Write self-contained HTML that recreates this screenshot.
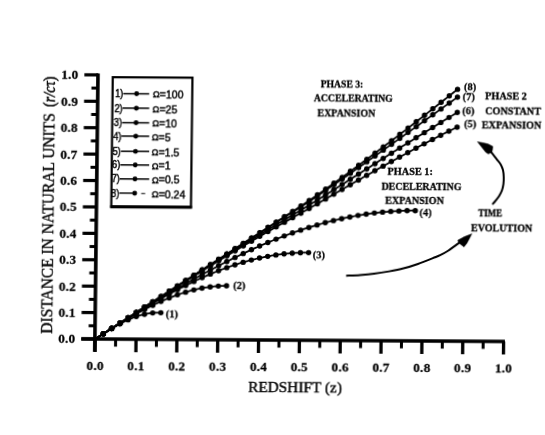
<!DOCTYPE html>
<html><head><meta charset="utf-8"><title>Distance vs Redshift</title>
<style>
html,body{margin:0;padding:0;background:#fff;}
body{width:545px;height:435px;overflow:hidden;position:relative;font-family:"Liberation Serif",serif;}
</style></head><body>
<svg width="545" height="435" viewBox="0 0 545 435" style="position:absolute;left:0;top:0;display:block">
<defs><filter id="soft" x="0" y="0" width="545" height="435" filterUnits="userSpaceOnUse"><feGaussianBlur stdDeviation="0.38"/></filter></defs>
<rect width="545" height="435" fill="#fff"/>
<g transform="matrix(1 0.0061 -0.0117 1 3.9663 -0.5807)" filter="url(#soft)">
<g stroke="#000" stroke-linecap="butt" fill="none">
<line x1="94.9" y1="73.40" x2="94.9" y2="351.8" stroke-width="3.6"/>
<line x1="81.3" y1="339.0" x2="504.90" y2="339.0" stroke-width="3.3"/>
<line x1="81.3" y1="339.00" x2="95.2" y2="339.00" stroke-width="3.2"/>
<line x1="88.5" y1="325.80" x2="95.2" y2="325.80" stroke-width="3.0"/>
<line x1="81.3" y1="312.59" x2="95.2" y2="312.59" stroke-width="3.2"/>
<line x1="88.5" y1="299.38" x2="95.2" y2="299.38" stroke-width="3.0"/>
<line x1="81.3" y1="286.18" x2="95.2" y2="286.18" stroke-width="3.2"/>
<line x1="88.5" y1="272.98" x2="95.2" y2="272.98" stroke-width="3.0"/>
<line x1="81.3" y1="259.77" x2="95.2" y2="259.77" stroke-width="3.2"/>
<line x1="88.5" y1="246.56" x2="95.2" y2="246.56" stroke-width="3.0"/>
<line x1="81.3" y1="233.36" x2="95.2" y2="233.36" stroke-width="3.2"/>
<line x1="88.5" y1="220.15" x2="95.2" y2="220.15" stroke-width="3.0"/>
<line x1="81.3" y1="206.95" x2="95.2" y2="206.95" stroke-width="3.2"/>
<line x1="88.5" y1="193.74" x2="95.2" y2="193.74" stroke-width="3.0"/>
<line x1="81.3" y1="180.54" x2="95.2" y2="180.54" stroke-width="3.2"/>
<line x1="88.5" y1="167.33" x2="95.2" y2="167.33" stroke-width="3.0"/>
<line x1="81.3" y1="154.13" x2="95.2" y2="154.13" stroke-width="3.2"/>
<line x1="88.5" y1="140.92" x2="95.2" y2="140.92" stroke-width="3.0"/>
<line x1="81.3" y1="127.72" x2="95.2" y2="127.72" stroke-width="3.2"/>
<line x1="88.5" y1="114.51" x2="95.2" y2="114.51" stroke-width="3.0"/>
<line x1="81.3" y1="101.31" x2="95.2" y2="101.31" stroke-width="3.2"/>
<line x1="88.5" y1="88.10" x2="95.2" y2="88.10" stroke-width="3.0"/>
<line x1="81.3" y1="74.90" x2="95.2" y2="74.90" stroke-width="3.2"/>
<line x1="95.20" y1="339.0" x2="95.20" y2="352" stroke-width="3.3"/>
<line x1="115.62" y1="339.0" x2="115.62" y2="346.5" stroke-width="3.0"/>
<line x1="136.04" y1="339.0" x2="136.04" y2="352" stroke-width="3.3"/>
<line x1="156.46" y1="339.0" x2="156.46" y2="346.5" stroke-width="3.0"/>
<line x1="176.88" y1="339.0" x2="176.88" y2="352" stroke-width="3.3"/>
<line x1="197.30" y1="339.0" x2="197.30" y2="346.5" stroke-width="3.0"/>
<line x1="217.72" y1="339.0" x2="217.72" y2="352" stroke-width="3.3"/>
<line x1="238.14" y1="339.0" x2="238.14" y2="346.5" stroke-width="3.0"/>
<line x1="258.56" y1="339.0" x2="258.56" y2="352" stroke-width="3.3"/>
<line x1="278.98" y1="339.0" x2="278.98" y2="346.5" stroke-width="3.0"/>
<line x1="299.40" y1="339.0" x2="299.40" y2="352" stroke-width="3.3"/>
<line x1="319.82" y1="339.0" x2="319.82" y2="346.5" stroke-width="3.0"/>
<line x1="340.24" y1="339.0" x2="340.24" y2="352" stroke-width="3.3"/>
<line x1="360.66" y1="339.0" x2="360.66" y2="346.5" stroke-width="3.0"/>
<line x1="381.08" y1="339.0" x2="381.08" y2="352" stroke-width="3.3"/>
<line x1="401.50" y1="339.0" x2="401.50" y2="346.5" stroke-width="3.0"/>
<line x1="421.92" y1="339.0" x2="421.92" y2="352" stroke-width="3.3"/>
<line x1="442.34" y1="339.0" x2="442.34" y2="346.5" stroke-width="3.0"/>
<line x1="462.76" y1="339.0" x2="462.76" y2="352" stroke-width="3.3"/>
<line x1="483.18" y1="339.0" x2="483.18" y2="346.5" stroke-width="3.0"/>
<line x1="503.60" y1="339.0" x2="503.60" y2="352" stroke-width="3.3"/>
</g>
<g style="font-family:'Liberation Serif',serif;font-weight:bold;font-size:13.3px;letter-spacing:0.2px" fill="#000" stroke="#000" stroke-width="0.25">
<text x="95.40" y="370.0" text-anchor="middle">0.0</text>
<text x="136.24" y="370.0" text-anchor="middle">0.1</text>
<text x="177.08" y="370.0" text-anchor="middle">0.2</text>
<text x="217.92" y="370.0" text-anchor="middle">0.3</text>
<text x="258.76" y="370.0" text-anchor="middle">0.4</text>
<text x="299.60" y="370.0" text-anchor="middle">0.5</text>
<text x="340.44" y="370.0" text-anchor="middle">0.6</text>
<text x="381.28" y="370.0" text-anchor="middle">0.7</text>
<text x="422.12" y="370.0" text-anchor="middle">0.8</text>
<text x="462.96" y="370.0" text-anchor="middle">0.9</text>
<text x="503.80" y="370.0" text-anchor="middle">1.0</text>
<text x="75.4" y="343.40" text-anchor="end">0.0</text>
<text x="75.4" y="316.99" text-anchor="end">0.1</text>
<text x="75.4" y="290.58" text-anchor="end">0.2</text>
<text x="75.4" y="264.17" text-anchor="end">0.3</text>
<text x="75.4" y="237.76" text-anchor="end">0.4</text>
<text x="75.4" y="211.35" text-anchor="end">0.5</text>
<text x="75.4" y="184.94" text-anchor="end">0.6</text>
<text x="75.4" y="158.53" text-anchor="end">0.7</text>
<text x="75.4" y="132.12" text-anchor="end">0.8</text>
<text x="75.4" y="105.71" text-anchor="end">0.9</text>
<text x="75.4" y="79.30" text-anchor="end">1.0</text>
</g>
<text x="295.6" y="391.0" text-anchor="middle" textLength="93.8" lengthAdjust="spacingAndGlyphs" style="font-family:'Liberation Serif',serif;font-size:14.5px" stroke="#000" stroke-width="0.4">REDSHIFT (z)</text>
<text transform="translate(51.8,333.9) rotate(-90)" textLength="220.4" lengthAdjust="spacingAndGlyphs" style="font-family:'Liberation Serif',serif;font-size:17.5px" stroke="#000" stroke-width="0.4">DISTANCE IN NATURAL UNITS</text>
<text transform="translate(51.6,107.2) rotate(-90)" textLength="30.5" lengthAdjust="spacingAndGlyphs" style="font-family:'Liberation Serif',serif;font-size:16px" stroke="#000" stroke-width="0.5">(<tspan style="font-style:italic">r/cτ</tspan>)</text>
<rect x="109.7" y="77.2" width="79.7" height="129.2" fill="none" stroke="#000" stroke-width="2.2"/>
<line x1="108.60000000000001" y1="206.70000000000002" x2="190.5" y2="206.70000000000002" stroke="#000" stroke-width="3"/>
<line x1="120.34" y1="93.55" x2="146.33" y2="93.55" stroke="#000" stroke-width="1.5"/>
<circle cx="133.73" cy="93.55" r="2.45" fill="#000"/>
<text x="112.14" y="97.15" style="font-family:'Liberation Sans',sans-serif;font-size:10.5px" textLength="8.2" lengthAdjust="spacingAndGlyphs" stroke="#000" stroke-width="0.45">1)</text>
<text x="0" y="98.15" style="font-family:'Liberation Sans',sans-serif;font-size:11px" transform="translate(150.03,0) scale(0.96,1)" stroke="#000" stroke-width="0.45"><tspan style="font-size:9.5px" dy="-0.8">Ω</tspan><tspan dy="0.8">=100</tspan></text>
<line x1="119.93" y1="107.95" x2="146.50" y2="107.95" stroke="#000" stroke-width="1.5"/>
<circle cx="133.63" cy="107.95" r="2.45" fill="#000"/>
<text x="111.73" y="111.55" style="font-family:'Liberation Sans',sans-serif;font-size:10.5px" textLength="8.2" lengthAdjust="spacingAndGlyphs" stroke="#000" stroke-width="0.45">2)</text>
<text x="0" y="112.55" style="font-family:'Liberation Sans',sans-serif;font-size:11px" transform="translate(149.85,0) scale(0.96,1)" stroke="#000" stroke-width="0.45"><tspan style="font-size:9.5px" dy="-0.8">Ω</tspan><tspan dy="0.8">=25</tspan></text>
<line x1="119.51" y1="122.55" x2="146.67" y2="122.55" stroke="#000" stroke-width="1.5"/>
<circle cx="133.52" cy="122.55" r="2.45" fill="#000"/>
<text x="111.31" y="126.15" style="font-family:'Liberation Sans',sans-serif;font-size:10.5px" textLength="8.2" lengthAdjust="spacingAndGlyphs" stroke="#000" stroke-width="0.45">3)</text>
<text x="0" y="127.15" style="font-family:'Liberation Sans',sans-serif;font-size:11px" transform="translate(149.67,0) scale(0.96,1)" stroke="#000" stroke-width="0.45"><tspan style="font-size:9.5px" dy="-0.8">Ω</tspan><tspan dy="0.8">=10</tspan></text>
<line x1="119.12" y1="135.95" x2="146.83" y2="135.95" stroke="#000" stroke-width="1.5"/>
<circle cx="133.42" cy="135.95" r="2.45" fill="#000"/>
<text x="110.92" y="139.55" style="font-family:'Liberation Sans',sans-serif;font-size:10.5px" textLength="8.2" lengthAdjust="spacingAndGlyphs" stroke="#000" stroke-width="0.45">4)</text>
<text x="0" y="140.55" style="font-family:'Liberation Sans',sans-serif;font-size:11px" transform="translate(149.48,0) scale(0.96,1)" stroke="#000" stroke-width="0.45"><tspan style="font-size:9.5px" dy="-0.8">Ω</tspan><tspan dy="0.8">=5</tspan></text>
<line x1="118.69" y1="151.15" x2="147.01" y2="151.15" stroke="#000" stroke-width="1.5"/>
<circle cx="133.30" cy="151.15" r="2.45" fill="#000"/>
<text x="110.49" y="154.75" style="font-family:'Liberation Sans',sans-serif;font-size:10.5px" textLength="8.2" lengthAdjust="spacingAndGlyphs" stroke="#000" stroke-width="0.45">5)</text>
<text x="0" y="155.75" style="font-family:'Liberation Sans',sans-serif;font-size:11px" transform="translate(149.61,0) scale(0.96,1)" stroke="#000" stroke-width="0.45"><tspan style="font-size:9.5px" dy="-0.8">Ω</tspan><tspan dy="0.8">=1.5</tspan></text>
<line x1="118.30" y1="164.76" x2="147.16" y2="164.76" stroke="#000" stroke-width="1.5"/>
<circle cx="133.20" cy="164.76" r="2.45" fill="#000"/>
<text x="110.10" y="168.36" style="font-family:'Liberation Sans',sans-serif;font-size:10.5px" textLength="8.2" lengthAdjust="spacingAndGlyphs" stroke="#000" stroke-width="0.45">6)</text>
<text x="0" y="169.36" style="font-family:'Liberation Sans',sans-serif;font-size:11px" transform="translate(149.76,0) scale(0.96,1)" stroke="#000" stroke-width="0.45"><tspan style="font-size:9.5px" dy="-0.8">Ω</tspan><tspan dy="0.8">=1</tspan></text>
<line x1="117.89" y1="178.76" x2="147.33" y2="178.76" stroke="#000" stroke-width="1.5"/>
<circle cx="133.10" cy="178.76" r="2.45" fill="#000"/>
<text x="109.69" y="182.36" style="font-family:'Liberation Sans',sans-serif;font-size:10.5px" textLength="8.2" lengthAdjust="spacingAndGlyphs" stroke="#000" stroke-width="0.45">7)</text>
<text x="0" y="183.36" style="font-family:'Liberation Sans',sans-serif;font-size:11px" transform="translate(149.93,0) scale(0.96,1)" stroke="#000" stroke-width="0.45"><tspan style="font-size:9.5px" dy="-0.8">Ω</tspan><tspan dy="0.8">=0.5</tspan></text>
<line x1="117.49" y1="192.96" x2="132.99" y2="192.96" stroke="#000" stroke-width="1.4"/>
<line x1="139.49" y1="193.26" x2="143.49" y2="193.26" stroke="#000" stroke-width="1"/>
<circle cx="132.99" cy="192.96" r="2.45" fill="#000"/>
<text x="109.29" y="196.56" style="font-family:'Liberation Sans',sans-serif;font-size:10.5px" textLength="8.2" lengthAdjust="spacingAndGlyphs" stroke="#000" stroke-width="0.45">8)</text>
<text x="0" y="197.56" style="font-family:'Liberation Sans',sans-serif;font-size:11px" transform="translate(150.09,0) scale(0.96,1)" stroke="#000" stroke-width="0.45"><tspan style="font-size:9.5px" dy="-0.8">Ω</tspan><tspan dy="0.8">=0.24</tspan></text>
<polyline points="95.20,339.00 95.53,338.78 95.85,338.57 96.18,338.35 96.51,338.13 96.83,337.92 97.16,337.70 97.49,337.48 97.81,337.27 98.14,337.05 98.47,336.84 98.79,336.62 99.12,336.40 99.45,336.19 99.77,335.97 100.10,335.76 100.43,335.54 100.75,335.33 101.08,335.11 101.41,334.90 101.73,334.69 102.06,334.47 102.39,334.26 102.71,334.05 103.04,333.83 103.37,333.62 103.69,333.41 104.02,333.20 104.35,332.98 104.67,332.77 105.00,332.56 105.33,332.35 105.66,332.14 105.98,331.93 106.31,331.73 106.64,331.52 106.96,331.31 107.29,331.10 107.62,330.90 107.94,330.69 108.27,330.48 108.60,330.28 108.92,330.07 109.25,329.87 109.58,329.67 109.90,329.46 110.23,329.26 110.56,329.06 110.88,328.86 111.21,328.66 111.54,328.46 111.86,328.26 112.19,328.06 112.52,327.87 112.84,327.67 113.17,327.47 113.50,327.28 113.82,327.08 114.15,326.89 114.48,326.70 114.80,326.51 115.13,326.31 115.46,326.12 115.78,325.93 116.11,325.75 116.44,325.56 116.76,325.37 117.09,325.19 117.42,325.00 117.74,324.82 118.07,324.63 118.40,324.45 118.72,324.27 119.05,324.09 119.38,323.91 119.70,323.73 120.03,323.55 120.36,323.38 120.68,323.20 121.01,323.03 121.34,322.86 121.66,322.68 121.99,322.51 122.32,322.34 122.64,322.17 122.97,322.01 123.30,321.84 123.62,321.67 123.95,321.51 124.28,321.35 124.60,321.18 124.93,321.02 125.26,320.86 125.58,320.70 125.91,320.55 126.24,320.39 126.57,320.24 126.89,320.08 127.22,319.93 127.55,319.78 127.87,319.63 128.20,319.48 128.53,319.33 128.85,319.19 129.18,319.04 129.51,318.90 129.83,318.76 130.16,318.62 130.49,318.48 130.81,318.34 131.14,318.20 131.47,318.07 131.79,317.93 132.12,317.80 132.45,317.67 132.77,317.54 133.10,317.41 133.43,317.28 133.75,317.16 134.08,317.03 134.41,316.91 134.73,316.79 135.06,316.67 135.39,316.55 135.71,316.43 136.04,316.32 136.37,316.20 136.69,316.09 137.02,315.98 137.35,315.87 137.67,315.76 138.00,315.66 138.33,315.55 138.65,315.45 138.98,315.35 139.31,315.25 139.63,315.15 139.96,315.05 140.29,314.96 140.61,314.86 140.94,314.77 141.27,314.68 141.59,314.59 141.92,314.50 142.25,314.42 142.57,314.33 142.90,314.25 143.23,314.17 143.55,314.09 143.88,314.01 144.21,313.94 144.53,313.86 144.86,313.79 145.19,313.72 145.51,313.65 145.84,313.58 146.17,313.52 146.50,313.45 146.82,313.39 147.15,313.33 147.48,313.27 147.80,313.21 148.13,313.15 148.46,313.10 148.78,313.05 149.11,313.00 149.44,312.95 149.76,312.90 150.09,312.85 150.42,312.81 150.74,312.77 151.07,312.73 151.40,312.69 151.72,312.65 152.05,312.61 152.38,312.58 152.70,312.55 153.03,312.52 153.36,312.49 153.68,312.46 154.01,312.44 154.34,312.42 154.66,312.39 154.99,312.37 155.32,312.36 155.64,312.34 155.97,312.33 156.30,312.31 156.62,312.30 156.95,312.29 157.28,312.29 157.60,312.28 157.93,312.28 158.26,312.27 158.58,312.27 158.91,312.27 159.24,312.28 159.56,312.28 159.89,312.29 160.22,312.30 160.54,312.31" fill="none" stroke="#000" stroke-width="1.75"/>
<circle cx="103.37" cy="333.62" r="2.7" fill="#000"/>
<circle cx="111.54" cy="328.46" r="2.7" fill="#000"/>
<circle cx="119.70" cy="323.73" r="2.7" fill="#000"/>
<circle cx="127.87" cy="319.63" r="2.7" fill="#000"/>
<circle cx="136.04" cy="316.32" r="2.7" fill="#000"/>
<circle cx="144.21" cy="313.94" r="2.7" fill="#000"/>
<circle cx="152.38" cy="312.58" r="2.7" fill="#000"/>
<circle cx="160.54" cy="312.31" r="2.7" fill="#000"/>
<polyline points="95.20,339.00 95.85,338.58 96.51,338.16 97.16,337.74 97.81,337.32 98.47,336.90 99.12,336.48 99.77,336.06 100.43,335.64 101.08,335.22 101.73,334.80 102.39,334.38 103.04,333.96 103.69,333.54 104.35,333.12 105.00,332.70 105.66,332.29 106.31,331.87 106.96,331.45 107.62,331.04 108.27,330.62 108.92,330.20 109.58,329.79 110.23,329.38 110.88,328.96 111.54,328.55 112.19,328.14 112.84,327.73 113.50,327.31 114.15,326.90 114.80,326.49 115.46,326.09 116.11,325.68 116.76,325.27 117.42,324.86 118.07,324.46 118.72,324.05 119.38,323.65 120.03,323.25 120.68,322.84 121.34,322.44 121.99,322.04 122.64,321.64 123.30,321.25 123.95,320.85 124.60,320.45 125.26,320.06 125.91,319.67 126.57,319.27 127.22,318.88 127.87,318.49 128.53,318.11 129.18,317.72 129.83,317.33 130.49,316.95 131.14,316.56 131.79,316.18 132.45,315.80 133.10,315.42 133.75,315.04 134.41,314.67 135.06,314.29 135.71,313.92 136.37,313.55 137.02,313.18 137.67,312.81 138.33,312.44 138.98,312.08 139.63,311.71 140.29,311.35 140.94,310.99 141.59,310.63 142.25,310.28 142.90,309.92 143.55,309.57 144.21,309.21 144.86,308.86 145.51,308.52 146.17,308.17 146.82,307.83 147.48,307.48 148.13,307.14 148.78,306.80 149.44,306.47 150.09,306.13 150.74,305.80 151.40,305.47 152.05,305.14 152.70,304.81 153.36,304.49 154.01,304.17 154.66,303.85 155.32,303.53 155.97,303.21 156.62,302.90 157.28,302.59 157.93,302.28 158.58,301.97 159.24,301.67 159.89,301.36 160.54,301.06 161.20,300.76 161.85,300.47 162.50,300.17 163.16,299.88 163.81,299.59 164.46,299.31 165.12,299.02 165.77,298.74 166.42,298.46 167.08,298.19 167.73,297.91 168.39,297.64 169.04,297.37 169.69,297.11 170.35,296.84 171.00,296.58 171.65,296.32 172.31,296.07 172.96,295.81 173.61,295.56 174.27,295.31 174.92,295.07 175.57,294.82 176.23,294.58 176.88,294.35 177.53,294.11 178.19,293.88 178.84,293.65 179.49,293.42 180.15,293.20 180.80,292.98 181.45,292.76 182.11,292.54 182.76,292.33 183.41,292.12 184.07,291.91 184.72,291.71 185.37,291.51 186.03,291.31 186.68,291.11 187.34,290.92 187.99,290.73 188.64,290.54 189.30,290.36 189.95,290.18 190.60,290.00 191.26,289.82 191.91,289.65 192.56,289.48 193.22,289.32 193.87,289.15 194.52,288.99 195.18,288.84 195.83,288.68 196.48,288.53 197.14,288.39 197.79,288.24 198.44,288.10 199.10,287.96 199.75,287.82 200.40,287.69 201.06,287.56 201.71,287.44 202.36,287.31 203.02,287.19 203.67,287.08 204.32,286.96 204.98,286.85 205.63,286.75 206.28,286.64 206.94,286.54 207.59,286.44 208.25,286.35 208.90,286.26 209.55,286.17 210.21,286.09 210.86,286.00 211.51,285.93 212.17,285.85 212.82,285.78 213.47,285.71 214.13,285.64 214.78,285.58 215.43,285.52 216.09,285.47 216.74,285.41 217.39,285.37 218.05,285.32 218.70,285.28 219.35,285.24 220.01,285.20 220.66,285.17 221.31,285.14 221.97,285.11 222.62,285.09 223.27,285.07 223.93,285.05 224.58,285.04 225.23,285.03 225.89,285.02" fill="none" stroke="#000" stroke-width="1.75"/>
<circle cx="103.37" cy="333.75" r="2.7" fill="#000"/>
<circle cx="111.54" cy="328.55" r="2.7" fill="#000"/>
<circle cx="119.70" cy="323.45" r="2.7" fill="#000"/>
<circle cx="127.87" cy="318.49" r="2.7" fill="#000"/>
<circle cx="136.04" cy="313.73" r="2.7" fill="#000"/>
<circle cx="144.21" cy="309.21" r="2.7" fill="#000"/>
<circle cx="152.38" cy="304.98" r="2.7" fill="#000"/>
<circle cx="160.54" cy="301.06" r="2.7" fill="#000"/>
<circle cx="168.71" cy="297.51" r="2.7" fill="#000"/>
<circle cx="176.88" cy="294.35" r="2.7" fill="#000"/>
<circle cx="185.05" cy="291.61" r="2.7" fill="#000"/>
<circle cx="193.22" cy="289.32" r="2.7" fill="#000"/>
<circle cx="201.38" cy="287.50" r="2.7" fill="#000"/>
<circle cx="209.55" cy="286.17" r="2.7" fill="#000"/>
<circle cx="217.72" cy="285.34" r="2.7" fill="#000"/>
<circle cx="225.89" cy="285.02" r="2.7" fill="#000"/>
<polyline points="95.20,339.00 96.26,338.31 97.32,337.62 98.39,336.94 99.45,336.25 100.51,335.56 101.57,334.87 102.63,334.18 103.69,333.50 104.76,332.81 105.82,332.12 106.88,331.44 107.94,330.75 109.00,330.07 110.07,329.38 111.13,328.70 112.19,328.02 113.25,327.33 114.31,326.65 115.37,325.97 116.44,325.29 117.50,324.61 118.56,323.93 119.62,323.26 120.68,322.58 121.75,321.90 122.81,321.23 123.87,320.56 124.93,319.88 125.99,319.21 127.06,318.54 128.12,317.87 129.18,317.21 130.24,316.54 131.30,315.88 132.36,315.21 133.43,314.55 134.49,313.89 135.55,313.23 136.61,312.58 137.67,311.92 138.74,311.27 139.80,310.61 140.86,309.96 141.92,309.32 142.98,308.67 144.04,308.02 145.11,307.38 146.17,306.74 147.23,306.10 148.29,305.46 149.35,304.83 150.42,304.20 151.48,303.57 152.54,302.94 153.60,302.31 154.66,301.69 155.72,301.07 156.79,300.45 157.85,299.83 158.91,299.21 159.97,298.60 161.03,297.99 162.10,297.39 163.16,296.78 164.22,296.18 165.28,295.58 166.34,294.98 167.41,294.39 168.47,293.80 169.53,293.21 170.59,292.62 171.65,292.04 172.71,291.46 173.78,290.89 174.84,290.31 175.90,289.74 176.96,289.17 178.02,288.61 179.09,288.05 180.15,287.49 181.21,286.93 182.27,286.38 183.33,285.83 184.39,285.29 185.46,284.74 186.52,284.20 187.58,283.67 188.64,283.14 189.70,282.61 190.77,282.08 191.83,281.56 192.89,281.04 193.95,280.53 195.01,280.02 196.07,279.51 197.14,279.01 198.20,278.51 199.26,278.01 200.32,277.52 201.38,277.03 202.45,276.54 203.51,276.06 204.57,275.58 205.63,275.11 206.69,274.64 207.76,274.18 208.82,273.72 209.88,273.26 210.94,272.80 212.00,272.36 213.06,271.91 214.13,271.47 215.19,271.03 216.25,270.60 217.31,270.17 218.37,269.75 219.44,269.33 220.50,268.91 221.56,268.50 222.62,268.09 223.68,267.69 224.74,267.29 225.81,266.90 226.87,266.51 227.93,266.12 228.99,265.74 230.05,265.37 231.12,265.00 232.18,264.63 233.24,264.27 234.30,263.91 235.36,263.56 236.42,263.21 237.49,262.86 238.55,262.52 239.61,262.19 240.67,261.86 241.73,261.54 242.80,261.22 243.86,260.90 244.92,260.59 245.98,260.28 247.04,259.98 248.10,259.69 249.17,259.40 250.23,259.11 251.29,258.83 252.35,258.55 253.41,258.28 254.48,258.02 255.54,257.75 256.60,257.50 257.66,257.25 258.72,257.00 259.79,256.76 260.85,256.52 261.91,256.29 262.97,256.07 264.03,255.85 265.09,255.63 266.16,255.42 267.22,255.21 268.28,255.01 269.34,254.82 270.40,254.63 271.47,254.44 272.53,254.26 273.59,254.09 274.65,253.92 275.71,253.76 276.77,253.60 277.84,253.45 278.90,253.30 279.96,253.15 281.02,253.02 282.08,252.88 283.15,252.76 284.21,252.64 285.27,252.52 286.33,252.41 287.39,252.30 288.45,252.20 289.52,252.11 290.58,252.02 291.64,251.94 292.70,251.86 293.76,251.78 294.83,251.71 295.89,251.65 296.95,251.60 298.01,251.54 299.07,251.50 300.14,251.46 301.20,251.42 302.26,251.39 303.32,251.36 304.38,251.35 305.44,251.33 306.51,251.32 307.57,251.32" fill="none" stroke="#000" stroke-width="1.75"/>
<circle cx="103.37" cy="333.71" r="2.7" fill="#000"/>
<circle cx="111.54" cy="328.44" r="2.7" fill="#000"/>
<circle cx="119.70" cy="323.20" r="2.7" fill="#000"/>
<circle cx="127.87" cy="318.03" r="2.7" fill="#000"/>
<circle cx="136.04" cy="312.93" r="2.7" fill="#000"/>
<circle cx="144.21" cy="307.92" r="2.7" fill="#000"/>
<circle cx="152.38" cy="303.03" r="2.7" fill="#000"/>
<circle cx="160.54" cy="298.27" r="2.7" fill="#000"/>
<circle cx="168.71" cy="293.66" r="2.7" fill="#000"/>
<circle cx="176.88" cy="289.22" r="2.7" fill="#000"/>
<circle cx="185.05" cy="284.95" r="2.7" fill="#000"/>
<circle cx="193.22" cy="280.88" r="2.7" fill="#000"/>
<circle cx="201.38" cy="277.03" r="2.7" fill="#000"/>
<circle cx="209.55" cy="273.40" r="2.7" fill="#000"/>
<circle cx="217.72" cy="270.01" r="2.7" fill="#000"/>
<circle cx="225.89" cy="266.87" r="2.7" fill="#000"/>
<circle cx="234.06" cy="263.99" r="2.7" fill="#000"/>
<circle cx="242.22" cy="261.39" r="2.7" fill="#000"/>
<circle cx="250.39" cy="259.07" r="2.7" fill="#000"/>
<circle cx="258.56" cy="257.04" r="2.7" fill="#000"/>
<circle cx="266.73" cy="255.31" r="2.7" fill="#000"/>
<circle cx="274.90" cy="253.88" r="2.7" fill="#000"/>
<circle cx="283.06" cy="252.77" r="2.7" fill="#000"/>
<circle cx="291.23" cy="251.97" r="2.7" fill="#000"/>
<circle cx="299.40" cy="251.48" r="2.7" fill="#000"/>
<circle cx="307.57" cy="251.32" r="2.7" fill="#000"/>
<polyline points="95.20,339.00 96.79,337.98 98.39,336.95 99.98,335.93 101.57,334.91 103.16,333.89 104.76,332.86 106.35,331.84 107.94,330.82 109.53,329.80 111.13,328.78 112.72,327.76 114.31,326.74 115.91,325.72 117.50,324.71 119.09,323.69 120.68,322.67 122.28,321.66 123.87,320.65 125.46,319.63 127.06,318.62 128.65,317.61 130.24,316.60 131.83,315.60 133.43,314.59 135.02,313.59 136.61,312.59 138.20,311.58 139.80,310.59 141.39,309.59 142.98,308.59 144.58,307.60 146.17,306.61 147.76,305.62 149.35,304.63 150.95,303.64 152.54,302.66 154.13,301.68 155.72,300.70 157.32,299.72 158.91,298.75 160.50,297.78 162.10,296.81 163.69,295.84 165.28,294.88 166.87,293.92 168.47,292.96 170.06,292.00 171.65,291.05 173.25,290.10 174.84,289.15 176.43,288.21 178.02,287.27 179.62,286.33 181.21,285.40 182.80,284.47 184.39,283.54 185.99,282.61 187.58,281.69 189.17,280.78 190.77,279.86 192.36,278.95 193.95,278.05 195.54,277.14 197.14,276.25 198.73,275.35 200.32,274.46 201.91,273.57 203.51,272.69 205.10,271.81 206.69,270.94 208.29,270.07 209.88,269.20 211.47,268.34 213.06,267.48 214.66,266.63 216.25,265.78 217.84,264.94 219.44,264.10 221.03,263.26 222.62,262.43 224.21,261.61 225.81,260.79 227.40,259.97 228.99,259.16 230.58,258.35 232.18,257.55 233.77,256.76 235.36,255.97 236.96,255.18 238.55,254.40 240.14,253.62 241.73,252.85 243.33,252.09 244.92,251.33 246.51,250.58 248.10,249.83 249.70,249.08 251.29,248.35 252.88,247.61 254.48,246.89 256.07,246.17 257.66,245.45 259.25,244.74 260.85,244.04 262.44,243.34 264.03,242.65 265.63,241.96 267.22,241.28 268.81,240.61 270.40,239.94 272.00,239.28 273.59,238.62 275.18,237.98 276.77,237.33 278.37,236.70 279.96,236.07 281.55,235.44 283.15,234.82 284.74,234.21 286.33,233.61 287.92,233.01 289.52,232.42 291.11,231.83 292.70,231.25 294.29,230.68 295.89,230.12 297.48,229.56 299.07,229.01 300.67,228.46 302.26,227.92 303.85,227.39 305.44,226.87 307.04,226.35 308.63,225.84 310.22,225.33 311.82,224.84 313.41,224.35 315.00,223.86 316.59,223.39 318.19,222.92 319.78,222.46 321.37,222.01 322.96,221.56 324.56,221.12 326.15,220.69 327.74,220.26 329.34,219.84 330.93,219.43 332.52,219.03 334.11,218.63 335.71,218.25 337.30,217.87 338.89,217.49 340.49,217.13 342.08,216.77 343.67,216.42 345.26,216.07 346.86,215.74 348.45,215.41 350.04,215.09 351.63,214.78 353.23,214.47 354.82,214.17 356.41,213.89 358.01,213.60 359.60,213.33 361.19,213.06 362.78,212.80 364.38,212.55 365.97,212.31 367.56,212.07 369.15,211.85 370.75,211.63 372.34,211.41 373.93,211.21 375.53,211.01 377.12,210.83 378.71,210.65 380.30,210.47 381.90,210.31 383.49,210.15 385.08,210.00 386.68,209.86 388.27,209.73 389.86,209.60 391.45,209.49 393.05,209.38 394.64,209.28 396.23,209.19 397.82,209.10 399.42,209.02 401.01,208.95 402.60,208.89 404.20,208.84 405.79,208.80 407.38,208.76 408.97,208.73 410.57,208.71 412.16,208.70 413.75,208.69" fill="none" stroke="#000" stroke-width="1.75"/>
<circle cx="103.37" cy="333.76" r="2.7" fill="#000"/>
<circle cx="111.54" cy="328.52" r="2.7" fill="#000"/>
<circle cx="119.70" cy="323.30" r="2.7" fill="#000"/>
<circle cx="127.87" cy="318.11" r="2.7" fill="#000"/>
<circle cx="136.04" cy="312.95" r="2.7" fill="#000"/>
<circle cx="144.21" cy="307.83" r="2.7" fill="#000"/>
<circle cx="152.38" cy="302.76" r="2.7" fill="#000"/>
<circle cx="160.54" cy="297.75" r="2.7" fill="#000"/>
<circle cx="168.71" cy="292.81" r="2.7" fill="#000"/>
<circle cx="176.88" cy="287.94" r="2.7" fill="#000"/>
<circle cx="185.05" cy="283.16" r="2.7" fill="#000"/>
<circle cx="193.22" cy="278.46" r="2.7" fill="#000"/>
<circle cx="201.38" cy="273.87" r="2.7" fill="#000"/>
<circle cx="209.55" cy="269.38" r="2.7" fill="#000"/>
<circle cx="217.72" cy="265.00" r="2.7" fill="#000"/>
<circle cx="225.89" cy="260.74" r="2.7" fill="#000"/>
<circle cx="234.06" cy="256.61" r="2.7" fill="#000"/>
<circle cx="242.22" cy="252.62" r="2.7" fill="#000"/>
<circle cx="250.39" cy="248.76" r="2.7" fill="#000"/>
<circle cx="258.56" cy="245.05" r="2.7" fill="#000"/>
<circle cx="266.73" cy="241.49" r="2.7" fill="#000"/>
<circle cx="274.90" cy="238.09" r="2.7" fill="#000"/>
<circle cx="283.06" cy="234.85" r="2.7" fill="#000"/>
<circle cx="291.23" cy="231.79" r="2.7" fill="#000"/>
<circle cx="299.40" cy="228.89" r="2.7" fill="#000"/>
<circle cx="307.57" cy="226.18" r="2.7" fill="#000"/>
<circle cx="315.74" cy="223.64" r="2.7" fill="#000"/>
<circle cx="323.90" cy="221.30" r="2.7" fill="#000"/>
<circle cx="332.07" cy="219.14" r="2.7" fill="#000"/>
<circle cx="340.24" cy="217.18" r="2.7" fill="#000"/>
<circle cx="348.41" cy="215.42" r="2.7" fill="#000"/>
<circle cx="356.58" cy="213.86" r="2.7" fill="#000"/>
<circle cx="364.74" cy="212.50" r="2.7" fill="#000"/>
<circle cx="372.91" cy="211.34" r="2.7" fill="#000"/>
<circle cx="381.08" cy="210.39" r="2.7" fill="#000"/>
<circle cx="389.25" cy="209.65" r="2.7" fill="#000"/>
<circle cx="397.42" cy="209.12" r="2.7" fill="#000"/>
<circle cx="405.58" cy="208.80" r="2.7" fill="#000"/>
<circle cx="413.75" cy="208.69" r="2.7" fill="#000"/>
<polyline points="95.20,339.00 97.00,337.82 98.79,336.64 100.59,335.46 102.39,334.28 104.18,333.10 105.98,331.92 107.78,330.74 109.58,329.56 111.37,328.38 113.17,327.20 114.97,326.02 116.76,324.84 118.56,323.66 120.36,322.48 122.15,321.31 123.95,320.13 125.75,318.95 127.55,317.78 129.34,316.60 131.14,315.42 132.94,314.25 134.73,313.08 136.53,311.90 138.33,310.73 140.12,309.56 141.92,308.39 143.72,307.22 145.51,306.05 147.31,304.88 149.11,303.71 150.91,302.55 152.70,301.38 154.50,300.22 156.30,299.05 158.09,297.89 159.89,296.73 161.69,295.57 163.48,294.41 165.28,293.25 167.08,292.09 168.88,290.94 170.67,289.78 172.47,288.63 174.27,287.48 176.06,286.32 177.86,285.18 179.66,284.03 181.45,282.88 183.25,281.73 185.05,280.59 186.84,279.45 188.64,278.31 190.44,277.17 192.24,276.03 194.03,274.89 195.83,273.76 197.63,272.62 199.42,271.49 201.22,270.36 203.02,269.23 204.81,268.11 206.61,266.98 208.41,265.86 210.21,264.74 212.00,263.62 213.80,262.50 215.60,261.38 217.39,260.27 219.19,259.16 220.99,258.05 222.78,256.94 224.58,255.83 226.38,254.73 228.18,253.63 229.97,252.53 231.77,251.43 233.57,250.34 235.36,249.24 237.16,248.15 238.96,247.06 240.75,245.98 242.55,244.89 244.35,243.81 246.14,242.73 247.94,241.66 249.74,240.58 251.54,239.51 253.33,238.44 255.13,237.37 256.93,236.31 258.72,235.25 260.52,234.19 262.32,233.13 264.11,232.07 265.91,231.02 267.71,229.97 269.51,228.93 271.30,227.88 273.10,226.84 274.90,225.81 276.69,224.77 278.49,223.74 280.29,222.71 282.08,221.68 283.88,220.66 285.68,219.64 287.47,218.62 289.27,217.61 291.07,216.59 292.87,215.59 294.66,214.58 296.46,213.58 298.26,212.58 300.05,211.56 301.85,210.54 303.65,209.50 305.44,208.46 307.24,207.42 309.04,206.38 310.84,205.33 312.63,204.28 314.43,203.22 316.23,202.17 318.02,201.12 319.82,200.06 321.62,199.00 323.41,197.95 325.21,196.89 327.01,195.83 328.80,194.77 330.60,193.71 332.40,192.66 334.20,191.60 335.99,190.54 337.79,189.48 339.59,188.43 341.38,187.37 343.18,186.32 344.98,185.26 346.77,184.21 348.57,183.16 350.37,182.11 352.17,181.06 353.96,180.01 355.76,178.97 357.56,177.92 359.35,176.88 361.15,175.83 362.95,174.79 364.74,173.75 366.54,172.71 368.34,171.68 370.13,170.64 371.93,169.61 373.73,168.58 375.53,167.55 377.32,166.53 379.12,165.50 380.92,164.48 382.71,163.46 384.51,162.44 386.31,161.43 388.10,160.41 389.90,159.40 391.70,158.39 393.50,157.39 395.29,156.38 397.09,155.38 398.89,154.39 400.68,153.39 402.48,152.40 404.28,151.41 406.07,150.42 407.87,149.43 409.67,148.45 411.46,147.47 413.26,146.50 415.06,145.52 416.86,144.55 418.65,143.59 420.45,142.62 422.25,141.66 424.04,140.70 425.84,139.75 427.64,138.80 429.43,137.85 431.23,136.90 433.03,135.96 434.83,135.02 436.62,134.09 438.42,133.16 440.22,132.23 442.01,131.31 443.81,130.39 445.61,129.47 447.40,128.56 449.20,127.65 451.00,126.74 452.80,125.84 454.59,124.94" fill="none" stroke="#000" stroke-width="1.75"/>
<circle cx="103.37" cy="333.63" r="2.7" fill="#000"/>
<circle cx="111.54" cy="328.27" r="2.7" fill="#000"/>
<circle cx="119.70" cy="322.91" r="2.7" fill="#000"/>
<circle cx="127.87" cy="317.56" r="2.7" fill="#000"/>
<circle cx="136.04" cy="312.22" r="2.7" fill="#000"/>
<circle cx="144.21" cy="306.90" r="2.7" fill="#000"/>
<circle cx="152.38" cy="301.59" r="2.7" fill="#000"/>
<circle cx="160.54" cy="296.31" r="2.7" fill="#000"/>
<circle cx="168.71" cy="291.04" r="2.7" fill="#000"/>
<circle cx="176.88" cy="285.80" r="2.7" fill="#000"/>
<circle cx="185.05" cy="280.59" r="2.7" fill="#000"/>
<circle cx="193.22" cy="275.41" r="2.7" fill="#000"/>
<circle cx="201.38" cy="270.26" r="2.7" fill="#000"/>
<circle cx="209.55" cy="265.14" r="2.7" fill="#000"/>
<circle cx="217.72" cy="260.07" r="2.7" fill="#000"/>
<circle cx="225.89" cy="255.03" r="2.7" fill="#000"/>
<circle cx="234.06" cy="250.04" r="2.7" fill="#000"/>
<circle cx="242.22" cy="245.09" r="2.7" fill="#000"/>
<circle cx="250.39" cy="240.19" r="2.7" fill="#000"/>
<circle cx="258.56" cy="235.34" r="2.7" fill="#000"/>
<circle cx="266.73" cy="230.55" r="2.7" fill="#000"/>
<circle cx="274.90" cy="225.81" r="2.7" fill="#000"/>
<circle cx="283.06" cy="221.12" r="2.7" fill="#000"/>
<circle cx="291.23" cy="216.50" r="2.7" fill="#000"/>
<circle cx="299.40" cy="211.93" r="2.7" fill="#000"/>
<circle cx="307.57" cy="207.23" r="2.7" fill="#000"/>
<circle cx="315.74" cy="202.46" r="2.7" fill="#000"/>
<circle cx="323.90" cy="197.66" r="2.7" fill="#000"/>
<circle cx="332.07" cy="192.85" r="2.7" fill="#000"/>
<circle cx="340.24" cy="188.04" r="2.7" fill="#000"/>
<circle cx="348.41" cy="183.26" r="2.7" fill="#000"/>
<circle cx="356.58" cy="178.49" r="2.7" fill="#000"/>
<circle cx="364.74" cy="173.75" r="2.7" fill="#000"/>
<circle cx="372.91" cy="169.05" r="2.7" fill="#000"/>
<circle cx="381.08" cy="164.39" r="2.7" fill="#000"/>
<circle cx="389.25" cy="159.77" r="2.7" fill="#000"/>
<circle cx="397.42" cy="155.20" r="2.7" fill="#000"/>
<circle cx="405.58" cy="150.69" r="2.7" fill="#000"/>
<circle cx="413.75" cy="146.23" r="2.7" fill="#000"/>
<circle cx="421.92" cy="141.84" r="2.7" fill="#000"/>
<circle cx="430.09" cy="137.50" r="2.7" fill="#000"/>
<circle cx="438.26" cy="133.24" r="2.7" fill="#000"/>
<circle cx="446.42" cy="129.05" r="2.7" fill="#000"/>
<circle cx="454.59" cy="124.94" r="2.7" fill="#000"/>
<polyline points="95.20,339.00 97.00,337.82 98.79,336.64 100.59,335.46 102.39,334.28 104.18,333.10 105.98,331.92 107.78,330.73 109.58,329.55 111.37,328.37 113.17,327.19 114.97,326.01 116.76,324.83 118.56,323.65 120.36,322.47 122.15,321.30 123.95,320.12 125.75,318.94 127.55,317.76 129.34,316.58 131.14,315.40 132.94,314.23 134.73,313.05 136.53,311.87 138.33,310.70 140.12,309.52 141.92,308.34 143.72,307.17 145.51,305.99 147.31,304.82 149.11,303.64 150.91,302.47 152.70,301.30 154.50,300.13 156.30,298.95 158.09,297.78 159.89,296.61 161.69,295.44 163.48,294.27 165.28,293.10 167.08,291.94 168.88,290.77 170.67,289.60 172.47,288.44 174.27,287.27 176.06,286.11 177.86,284.94 179.66,283.78 181.45,282.62 183.25,281.46 185.05,280.29 186.84,279.13 188.64,277.98 190.44,276.82 192.24,275.66 194.03,274.50 195.83,273.35 197.63,272.19 199.42,271.04 201.22,269.89 203.02,268.74 204.81,267.59 206.61,266.44 208.41,265.29 210.21,264.14 212.00,263.00 213.80,261.85 215.60,260.71 217.39,259.56 219.19,258.42 220.99,257.28 222.78,256.14 224.58,255.00 226.38,253.87 228.18,252.73 229.97,251.60 231.77,250.47 233.57,249.33 235.36,248.20 237.16,247.07 238.96,245.95 240.75,244.82 242.55,243.70 244.35,242.57 246.14,241.45 247.94,240.33 249.74,239.21 251.54,238.09 253.33,236.98 255.13,235.86 256.93,234.75 258.72,233.64 260.52,232.53 262.32,231.42 264.11,230.32 265.91,229.21 267.71,228.11 269.51,227.01 271.30,225.91 273.10,224.81 274.90,223.71 276.69,222.62 278.49,221.52 280.29,220.43 282.08,219.34 283.88,218.26 285.68,217.17 287.47,216.09 289.27,215.01 291.07,213.93 292.87,212.85 294.66,211.77 296.46,210.70 298.26,209.62 300.05,208.54 301.85,207.43 303.65,206.32 305.44,205.21 307.24,204.09 309.04,202.96 310.84,201.83 312.63,200.70 314.43,199.56 316.23,198.42 318.02,197.28 319.82,196.14 321.62,194.99 323.41,193.84 325.21,192.69 327.01,191.54 328.80,190.39 330.60,189.24 332.40,188.08 334.20,186.93 335.99,185.77 337.79,184.62 339.59,183.46 341.38,182.30 343.18,181.14 344.98,179.98 346.77,178.82 348.57,177.66 350.37,176.50 352.17,175.34 353.96,174.18 355.76,173.02 357.56,171.85 359.35,170.69 361.15,169.53 362.95,168.37 364.74,167.21 366.54,166.05 368.34,164.89 370.13,163.73 371.93,162.57 373.73,161.41 375.53,160.25 377.32,159.09 379.12,157.93 380.92,156.78 382.71,155.62 384.51,154.46 386.31,153.31 388.10,152.16 389.90,151.00 391.70,149.85 393.50,148.70 395.29,147.55 397.09,146.40 398.89,145.25 400.68,144.10 402.48,142.95 404.28,141.81 406.07,140.66 407.87,139.52 409.67,138.38 411.46,137.24 413.26,136.10 415.06,134.96 416.86,133.82 418.65,132.69 420.45,131.55 422.25,130.42 424.04,129.29 425.84,128.16 427.64,127.03 429.43,125.90 431.23,124.78 433.03,123.65 434.83,122.53 436.62,121.41 438.42,120.29 440.22,119.18 442.01,118.06 443.81,116.95 445.61,115.84 447.40,114.73 449.20,113.62 451.00,112.51 452.80,111.41 454.59,110.31" fill="none" stroke="#000" stroke-width="1.75"/>
<circle cx="103.37" cy="333.63" r="2.7" fill="#000"/>
<circle cx="111.54" cy="328.27" r="2.7" fill="#000"/>
<circle cx="119.70" cy="322.90" r="2.7" fill="#000"/>
<circle cx="127.87" cy="317.55" r="2.7" fill="#000"/>
<circle cx="136.04" cy="312.19" r="2.7" fill="#000"/>
<circle cx="144.21" cy="306.85" r="2.7" fill="#000"/>
<circle cx="152.38" cy="301.51" r="2.7" fill="#000"/>
<circle cx="160.54" cy="296.19" r="2.7" fill="#000"/>
<circle cx="168.71" cy="290.87" r="2.7" fill="#000"/>
<circle cx="176.88" cy="285.58" r="2.7" fill="#000"/>
<circle cx="185.05" cy="280.29" r="2.7" fill="#000"/>
<circle cx="193.22" cy="275.03" r="2.7" fill="#000"/>
<circle cx="201.38" cy="269.78" r="2.7" fill="#000"/>
<circle cx="209.55" cy="264.56" r="2.7" fill="#000"/>
<circle cx="217.72" cy="259.36" r="2.7" fill="#000"/>
<circle cx="225.89" cy="254.18" r="2.7" fill="#000"/>
<circle cx="234.06" cy="249.03" r="2.7" fill="#000"/>
<circle cx="242.22" cy="243.90" r="2.7" fill="#000"/>
<circle cx="250.39" cy="238.81" r="2.7" fill="#000"/>
<circle cx="258.56" cy="233.74" r="2.7" fill="#000"/>
<circle cx="266.73" cy="228.71" r="2.7" fill="#000"/>
<circle cx="274.90" cy="223.71" r="2.7" fill="#000"/>
<circle cx="283.06" cy="218.75" r="2.7" fill="#000"/>
<circle cx="291.23" cy="213.83" r="2.7" fill="#000"/>
<circle cx="299.40" cy="208.93" r="2.7" fill="#000"/>
<circle cx="307.57" cy="203.88" r="2.7" fill="#000"/>
<circle cx="315.74" cy="198.73" r="2.7" fill="#000"/>
<circle cx="323.90" cy="193.53" r="2.7" fill="#000"/>
<circle cx="332.07" cy="188.29" r="2.7" fill="#000"/>
<circle cx="340.24" cy="183.04" r="2.7" fill="#000"/>
<circle cx="348.41" cy="177.76" r="2.7" fill="#000"/>
<circle cx="356.58" cy="172.49" r="2.7" fill="#000"/>
<circle cx="364.74" cy="167.21" r="2.7" fill="#000"/>
<circle cx="372.91" cy="161.94" r="2.7" fill="#000"/>
<circle cx="381.08" cy="156.67" r="2.7" fill="#000"/>
<circle cx="389.25" cy="151.42" r="2.7" fill="#000"/>
<circle cx="397.42" cy="146.19" r="2.7" fill="#000"/>
<circle cx="405.58" cy="140.97" r="2.7" fill="#000"/>
<circle cx="413.75" cy="135.79" r="2.7" fill="#000"/>
<circle cx="421.92" cy="130.62" r="2.7" fill="#000"/>
<circle cx="430.09" cy="125.49" r="2.7" fill="#000"/>
<circle cx="438.26" cy="120.39" r="2.7" fill="#000"/>
<circle cx="446.42" cy="115.33" r="2.7" fill="#000"/>
<circle cx="454.59" cy="110.31" r="2.7" fill="#000"/>
<polyline points="95.20,339.00 97.00,337.82 98.79,336.64 100.59,335.46 102.39,334.28 104.18,333.10 105.98,331.91 107.78,330.73 109.58,329.55 111.37,328.37 113.17,327.19 114.97,326.01 116.76,324.83 118.56,323.65 120.36,322.47 122.15,321.29 123.95,320.11 125.75,318.93 127.55,317.74 129.34,316.56 131.14,315.38 132.94,314.20 134.73,313.02 136.53,311.84 138.33,310.66 140.12,309.48 141.92,308.30 143.72,307.12 145.51,305.94 147.31,304.76 149.11,303.58 150.91,302.40 152.70,301.22 154.50,300.04 156.30,298.86 158.09,297.68 159.89,296.50 161.69,295.32 163.48,294.14 165.28,292.96 167.08,291.78 168.88,290.60 170.67,289.42 172.47,288.24 174.27,287.06 176.06,285.88 177.86,284.71 179.66,283.53 181.45,282.35 183.25,281.17 185.05,279.99 186.84,278.81 188.64,277.64 190.44,276.46 192.24,275.28 194.03,274.10 195.83,272.93 197.63,271.75 199.42,270.57 201.22,269.40 203.02,268.22 204.81,267.04 206.61,265.87 208.41,264.69 210.21,263.52 212.00,262.34 213.80,261.17 215.60,259.99 217.39,258.82 219.19,257.64 220.99,256.47 222.78,255.30 224.58,254.12 226.38,252.95 228.18,251.78 229.97,250.61 231.77,249.44 233.57,248.26 235.36,247.09 237.16,245.92 238.96,244.75 240.75,243.58 242.55,242.41 244.35,241.24 246.14,240.07 247.94,238.91 249.74,237.74 251.54,236.57 253.33,235.40 255.13,234.24 256.93,233.07 258.72,231.91 260.52,230.74 262.32,229.58 264.11,228.41 265.91,227.25 267.71,226.09 269.51,224.93 271.30,223.76 273.10,222.60 274.90,221.44 276.69,220.28 278.49,219.12 280.29,217.96 282.08,216.81 283.88,215.65 285.68,214.49 287.47,213.34 289.27,212.18 291.07,211.03 292.87,209.87 294.66,208.72 296.46,207.57 298.26,206.41 300.05,205.24 301.85,204.06 303.65,202.87 305.44,201.66 307.24,200.46 309.04,199.24 310.84,198.03 312.63,196.80 314.43,195.58 316.23,194.34 318.02,193.11 319.82,191.87 321.62,190.63 323.41,189.39 325.21,188.14 327.01,186.89 328.80,185.63 330.60,184.38 332.40,183.12 334.20,181.86 335.99,180.60 337.79,179.33 339.59,178.06 341.38,176.79 343.18,175.52 344.98,174.25 346.77,172.97 348.57,171.70 350.37,170.42 352.17,169.14 353.96,167.86 355.76,166.58 357.56,165.29 359.35,164.01 361.15,162.72 362.95,161.43 364.74,160.14 366.54,158.85 368.34,157.56 370.13,156.27 371.93,154.97 373.73,153.68 375.53,152.38 377.32,151.09 379.12,149.79 380.92,148.49 382.71,147.19 384.51,145.89 386.31,144.59 388.10,143.29 389.90,141.99 391.70,140.69 393.50,139.38 395.29,138.08 397.09,136.78 398.89,135.47 400.68,134.17 402.48,132.87 404.28,131.56 406.07,130.25 407.87,128.95 409.67,127.64 411.46,126.34 413.26,125.03 415.06,123.73 416.86,122.42 418.65,121.11 420.45,119.81 422.25,118.50 424.04,117.19 425.84,115.89 427.64,114.58 429.43,113.28 431.23,111.97 433.03,110.66 434.83,109.36 436.62,108.05 438.42,106.75 440.22,105.45 442.01,104.14 443.81,102.84 445.61,101.53 447.40,100.23 449.20,98.93 451.00,97.63 452.80,96.33 454.59,95.03" fill="none" stroke="#000" stroke-width="1.75"/>
<circle cx="103.37" cy="333.63" r="2.7" fill="#000"/>
<circle cx="111.54" cy="328.26" r="2.7" fill="#000"/>
<circle cx="119.70" cy="322.90" r="2.7" fill="#000"/>
<circle cx="127.87" cy="317.53" r="2.7" fill="#000"/>
<circle cx="136.04" cy="312.16" r="2.7" fill="#000"/>
<circle cx="144.21" cy="306.80" r="2.7" fill="#000"/>
<circle cx="152.38" cy="301.43" r="2.7" fill="#000"/>
<circle cx="160.54" cy="296.07" r="2.7" fill="#000"/>
<circle cx="168.71" cy="290.71" r="2.7" fill="#000"/>
<circle cx="176.88" cy="285.35" r="2.7" fill="#000"/>
<circle cx="185.05" cy="279.99" r="2.7" fill="#000"/>
<circle cx="193.22" cy="274.64" r="2.7" fill="#000"/>
<circle cx="201.38" cy="269.29" r="2.7" fill="#000"/>
<circle cx="209.55" cy="263.94" r="2.7" fill="#000"/>
<circle cx="217.72" cy="258.60" r="2.7" fill="#000"/>
<circle cx="225.89" cy="253.27" r="2.7" fill="#000"/>
<circle cx="234.06" cy="247.94" r="2.7" fill="#000"/>
<circle cx="242.22" cy="242.63" r="2.7" fill="#000"/>
<circle cx="250.39" cy="237.31" r="2.7" fill="#000"/>
<circle cx="258.56" cy="232.01" r="2.7" fill="#000"/>
<circle cx="266.73" cy="226.72" r="2.7" fill="#000"/>
<circle cx="274.90" cy="221.44" r="2.7" fill="#000"/>
<circle cx="283.06" cy="216.17" r="2.7" fill="#000"/>
<circle cx="291.23" cy="210.92" r="2.7" fill="#000"/>
<circle cx="299.40" cy="205.67" r="2.7" fill="#000"/>
<circle cx="307.57" cy="200.24" r="2.7" fill="#000"/>
<circle cx="315.74" cy="194.68" r="2.7" fill="#000"/>
<circle cx="323.90" cy="189.05" r="2.7" fill="#000"/>
<circle cx="332.07" cy="183.35" r="2.7" fill="#000"/>
<circle cx="340.24" cy="177.60" r="2.7" fill="#000"/>
<circle cx="348.41" cy="171.81" r="2.7" fill="#000"/>
<circle cx="356.58" cy="165.99" r="2.7" fill="#000"/>
<circle cx="364.74" cy="160.14" r="2.7" fill="#000"/>
<circle cx="372.91" cy="154.27" r="2.7" fill="#000"/>
<circle cx="381.08" cy="148.37" r="2.7" fill="#000"/>
<circle cx="389.25" cy="142.46" r="2.7" fill="#000"/>
<circle cx="397.42" cy="136.54" r="2.7" fill="#000"/>
<circle cx="405.58" cy="130.61" r="2.7" fill="#000"/>
<circle cx="413.75" cy="124.68" r="2.7" fill="#000"/>
<circle cx="421.92" cy="118.74" r="2.7" fill="#000"/>
<circle cx="430.09" cy="112.80" r="2.7" fill="#000"/>
<circle cx="438.26" cy="106.87" r="2.7" fill="#000"/>
<circle cx="446.42" cy="100.94" r="2.7" fill="#000"/>
<circle cx="454.59" cy="95.03" r="2.7" fill="#000"/>
<polyline points="95.20,339.00 97.00,337.82 98.79,336.64 100.59,335.46 102.39,334.28 104.18,333.10 105.98,331.91 107.78,330.73 109.58,329.55 111.37,328.37 113.17,327.19 114.97,326.01 116.76,324.83 118.56,323.65 120.36,322.47 122.15,321.29 123.95,320.11 125.75,318.93 127.55,317.74 129.34,316.56 131.14,315.38 132.94,314.20 134.73,313.02 136.53,311.84 138.33,310.66 140.12,309.48 141.92,308.30 143.72,307.12 145.51,305.94 147.31,304.75 149.11,303.57 150.91,302.39 152.70,301.21 154.50,300.03 156.30,298.85 158.09,297.67 159.89,296.49 161.69,295.31 163.48,294.13 165.28,292.95 167.08,291.77 168.88,290.58 170.67,289.40 172.47,288.22 174.27,287.04 176.06,285.86 177.86,284.68 179.66,283.50 181.45,282.32 183.25,281.14 185.05,279.96 186.84,278.78 188.64,277.59 190.44,276.41 192.24,275.23 194.03,274.05 195.83,272.87 197.63,271.69 199.42,270.51 201.22,269.33 203.02,268.15 204.81,266.97 206.61,265.79 208.41,264.61 210.21,263.42 212.00,262.24 213.80,261.06 215.60,259.88 217.39,258.70 219.19,257.52 220.99,256.34 222.78,255.16 224.58,253.98 226.38,252.80 228.18,251.62 229.97,250.43 231.77,249.25 233.57,248.07 235.36,246.89 237.16,245.71 238.96,244.53 240.75,243.35 242.55,242.17 244.35,240.99 246.14,239.81 247.94,238.63 249.74,237.44 251.54,236.26 253.33,235.08 255.13,233.90 256.93,232.72 258.72,231.54 260.52,230.36 262.32,229.18 264.11,228.00 265.91,226.82 267.71,225.64 269.51,224.46 271.30,223.27 273.10,222.09 274.90,220.91 276.69,219.73 278.49,218.55 280.29,217.37 282.08,216.19 283.88,215.01 285.68,213.83 287.47,212.65 289.27,211.47 291.07,210.28 292.87,209.10 294.66,207.92 296.46,206.74 298.26,205.56 300.05,204.36 301.85,203.15 303.65,201.92 305.44,200.69 307.24,199.45 309.04,198.20 310.84,196.95 312.63,195.69 314.43,194.43 316.23,193.16 318.02,191.89 319.82,190.61 321.62,189.33 323.41,188.04 325.21,186.75 327.01,185.46 328.80,184.16 330.60,182.86 332.40,181.56 334.20,180.25 335.99,178.94 337.79,177.63 339.59,176.31 341.38,174.99 343.18,173.66 344.98,172.34 346.77,171.01 348.57,169.68 350.37,168.34 352.17,167.01 353.96,165.67 355.76,164.32 357.56,162.98 359.35,161.63 361.15,160.28 362.95,158.93 364.74,157.57 366.54,156.21 368.34,154.85 370.13,153.49 371.93,152.12 373.73,150.76 375.53,149.39 377.32,148.01 379.12,146.64 380.92,145.26 382.71,143.88 384.51,142.50 386.31,141.12 388.10,139.73 389.90,138.35 391.70,136.96 393.50,135.57 395.29,134.17 397.09,132.78 398.89,131.38 400.68,129.98 402.48,128.58 404.28,127.17 406.07,125.77 407.87,124.36 409.67,122.95 411.46,121.54 413.26,120.13 415.06,118.71 416.86,117.29 418.65,115.88 420.45,114.46 422.25,113.03 424.04,111.61 425.84,110.18 427.64,108.75 429.43,107.32 431.23,105.89 433.03,104.46 434.83,103.03 436.62,101.59 438.42,100.15 440.22,98.71 442.01,97.27 443.81,95.82 445.61,94.38 447.40,92.93 449.20,91.48 451.00,90.03 452.80,88.58 454.59,87.13" fill="none" stroke="#000" stroke-width="1.75"/>
<circle cx="103.37" cy="333.63" r="2.7" fill="#000"/>
<circle cx="111.54" cy="328.26" r="2.7" fill="#000"/>
<circle cx="119.70" cy="322.90" r="2.7" fill="#000"/>
<circle cx="127.87" cy="317.53" r="2.7" fill="#000"/>
<circle cx="136.04" cy="312.16" r="2.7" fill="#000"/>
<circle cx="144.21" cy="306.79" r="2.7" fill="#000"/>
<circle cx="152.38" cy="301.43" r="2.7" fill="#000"/>
<circle cx="160.54" cy="296.06" r="2.7" fill="#000"/>
<circle cx="168.71" cy="290.69" r="2.7" fill="#000"/>
<circle cx="176.88" cy="285.32" r="2.7" fill="#000"/>
<circle cx="185.05" cy="279.96" r="2.7" fill="#000"/>
<circle cx="193.22" cy="274.59" r="2.7" fill="#000"/>
<circle cx="201.38" cy="269.22" r="2.7" fill="#000"/>
<circle cx="209.55" cy="263.85" r="2.7" fill="#000"/>
<circle cx="217.72" cy="258.49" r="2.7" fill="#000"/>
<circle cx="225.89" cy="253.12" r="2.7" fill="#000"/>
<circle cx="234.06" cy="247.75" r="2.7" fill="#000"/>
<circle cx="242.22" cy="242.38" r="2.7" fill="#000"/>
<circle cx="250.39" cy="237.02" r="2.7" fill="#000"/>
<circle cx="258.56" cy="231.65" r="2.7" fill="#000"/>
<circle cx="266.73" cy="226.28" r="2.7" fill="#000"/>
<circle cx="274.90" cy="220.91" r="2.7" fill="#000"/>
<circle cx="283.06" cy="215.55" r="2.7" fill="#000"/>
<circle cx="291.23" cy="210.18" r="2.7" fill="#000"/>
<circle cx="299.40" cy="204.80" r="2.7" fill="#000"/>
<circle cx="307.57" cy="199.22" r="2.7" fill="#000"/>
<circle cx="315.74" cy="193.51" r="2.7" fill="#000"/>
<circle cx="323.90" cy="187.69" r="2.7" fill="#000"/>
<circle cx="332.07" cy="181.79" r="2.7" fill="#000"/>
<circle cx="340.24" cy="175.83" r="2.7" fill="#000"/>
<circle cx="348.41" cy="169.80" r="2.7" fill="#000"/>
<circle cx="356.58" cy="163.71" r="2.7" fill="#000"/>
<circle cx="364.74" cy="157.57" r="2.7" fill="#000"/>
<circle cx="372.91" cy="151.38" r="2.7" fill="#000"/>
<circle cx="381.08" cy="145.14" r="2.7" fill="#000"/>
<circle cx="389.25" cy="138.85" r="2.7" fill="#000"/>
<circle cx="397.42" cy="132.52" r="2.7" fill="#000"/>
<circle cx="405.58" cy="126.15" r="2.7" fill="#000"/>
<circle cx="413.75" cy="119.74" r="2.7" fill="#000"/>
<circle cx="421.92" cy="113.29" r="2.7" fill="#000"/>
<circle cx="430.09" cy="106.80" r="2.7" fill="#000"/>
<circle cx="438.26" cy="100.28" r="2.7" fill="#000"/>
<circle cx="446.42" cy="93.72" r="2.7" fill="#000"/>
<circle cx="454.59" cy="87.13" r="2.7" fill="#000"/>
<g style="font-family:'Liberation Serif',serif;font-weight:bold;font-size:10.5px" fill="#000" stroke="#000" stroke-width="0.25">
<text x="171.61" y="317.43" text-anchor="middle">(1)</text>
<text x="238.52" y="287.92" text-anchor="middle">(2)</text>
<text x="317.86" y="256.64" text-anchor="middle">(3)</text>
<text x="424.02" y="214.09" text-anchor="middle">(4)</text>
<text x="467.54" y="125.11" text-anchor="middle">(5)</text>
<text x="465.73" y="111.72" text-anchor="middle">(6)</text>
<text x="465.87" y="98.22" text-anchor="middle">(7)</text>
<text x="467.11" y="88.41" text-anchor="middle">(8)</text>
</g>
<text x="317.65" y="85.63" textLength="42.7" lengthAdjust="spacingAndGlyphs" style="font-family:'Liberation Serif',serif;font-weight:bold;font-size:10.5px" fill="#000" stroke="#000" stroke-width="0.3">PHASE 3:</text>
<text x="311.02" y="100.37" textLength="78.9" lengthAdjust="spacingAndGlyphs" style="font-family:'Liberation Serif',serif;font-weight:bold;font-size:10.5px" fill="#000" stroke="#000" stroke-width="0.3">ACCELERATING</text>
<text x="314.79" y="114.64" textLength="57.8" lengthAdjust="spacingAndGlyphs" style="font-family:'Liberation Serif',serif;font-weight:bold;font-size:10.5px" fill="#000" stroke="#000" stroke-width="0.3">EXPANSION</text>
<text x="482.20" y="97.02" textLength="41.7" lengthAdjust="spacingAndGlyphs" style="font-family:'Liberation Serif',serif;font-weight:bold;font-size:10.5px" fill="#000" stroke="#000" stroke-width="0.3">PHASE 2</text>
<text x="482.37" y="111.62" textLength="55.8" lengthAdjust="spacingAndGlyphs" style="font-family:'Liberation Serif',serif;font-weight:bold;font-size:10.5px" fill="#000" stroke="#000" stroke-width="0.3">CONSTANT</text>
<text x="479.23" y="125.94" textLength="59.6" lengthAdjust="spacingAndGlyphs" style="font-family:'Liberation Serif',serif;font-weight:bold;font-size:10.5px" fill="#000" stroke="#000" stroke-width="0.3">EXPANSION</text>
<text x="385.48" y="173.22" textLength="45.4" lengthAdjust="spacingAndGlyphs" style="font-family:'Liberation Serif',serif;font-weight:bold;font-size:10.5px" fill="#000" stroke="#000" stroke-width="0.3">PHASE 1:</text>
<text x="379.65" y="187.65" textLength="80.0" lengthAdjust="spacingAndGlyphs" style="font-family:'Liberation Serif',serif;font-weight:bold;font-size:10.5px" fill="#000" stroke="#000" stroke-width="0.3">DECELERATING</text>
<text x="383.42" y="201.93" textLength="58.8" lengthAdjust="spacingAndGlyphs" style="font-family:'Liberation Serif',serif;font-weight:bold;font-size:10.5px" fill="#000" stroke="#000" stroke-width="0.3">EXPANSION</text>
<text x="476.86" y="213.86" textLength="23.7" lengthAdjust="spacingAndGlyphs" style="font-family:'Liberation Serif',serif;font-weight:bold;font-size:9.5px" fill="#000" stroke="#000" stroke-width="0.3">TIME</text>
<text x="469.74" y="229.31" textLength="61.3" lengthAdjust="spacingAndGlyphs" style="font-family:'Liberation Serif',serif;font-weight:bold;font-size:10.5px" fill="#000" stroke="#000" stroke-width="0.3">EVOLUTION</text>
<path d="M491.32,201.47 C491.75,200.95 492.88,199.65 493.88,198.36 C494.88,197.07 496.28,195.46 497.33,193.74 C498.38,192.01 499.45,190.04 500.16,188.02 C500.87,186.00 501.31,183.83 501.59,181.61 C501.86,179.39 501.90,177.01 501.81,174.71 C501.71,172.41 501.53,169.91 501.03,167.81 C500.52,165.72 499.73,163.84 498.76,162.13 C497.79,160.41 496.32,158.97 495.21,157.55 C494.09,156.12 493.21,155.01 492.06,153.57 C490.91,152.12 488.93,149.67 488.30,148.89" fill="none" stroke="#000" stroke-width="2" stroke-linecap="round"/>
<polygon points="475.19,139.47 480.60,140.44 485.62,141.60 490.55,144.07 490.19,147.38 489.42,150.08 486.13,151.50 483.62,149.92 478.95,144.15" fill="#000" stroke="#000" stroke-width="0.5" stroke-linejoin="round"/>
<path d="M345.36,274.27 C347.68,274.12 354.61,273.76 359.25,273.38 C363.90,273.01 368.41,272.63 373.24,272.00 C378.06,271.37 383.32,270.52 388.21,269.61 C393.10,268.69 397.76,267.80 402.57,266.52 C407.39,265.24 412.24,263.66 417.12,261.93 C422.00,260.20 428.20,257.60 431.85,256.14 C435.50,254.68 436.45,254.48 439.02,253.20 C441.59,251.91 444.32,250.38 447.27,248.45 C450.21,246.51 454.67,243.07 456.69,241.59 C458.70,240.11 458.92,239.91 459.36,239.57" fill="none" stroke="#000" stroke-width="2" stroke-linecap="butt"/>
<polygon points="470.57,231.60 463.60,234.35 456.65,238.09 457.47,240.58 459.59,242.17 462.92,244.65 465.78,240.93 468.23,236.32" fill="#000" stroke="#000" stroke-width="0.5" stroke-linejoin="round"/>
</g>
</svg>
</body></html>
